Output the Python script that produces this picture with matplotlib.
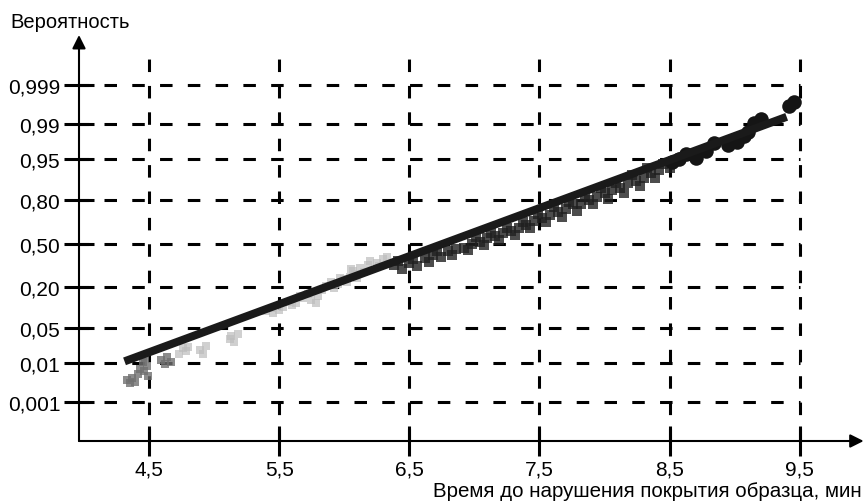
import numpy as np
import matplotlib
matplotlib.use("Agg")
import matplotlib.pyplot as plt
from statistics import NormalDist

plt.rcParams['font.family'] = ['Liberation Sans', 'DejaVu Sans']
plt.rcParams['lines.scale_dashes'] = False

# probability ticks (normal probability paper) and time ticks
prob_ticks = [0.001, 0.01, 0.05, 0.20, 0.50, 0.80, 0.95, 0.99, 0.999]
prob_labels = ["0,001", "0,01", "0,05", "0,20", "0,50", "0,80", "0,95", "0,99", "0,999"]
time_ticks = [4.5, 5.5, 6.5, 7.5, 8.5, 9.5]
time_labels = ["4,5", "5,5", "6,5", "7,5", "8,5", "9,5"]

mid_x = [4.33, 4.35, 4.37, 4.39, 4.41, 4.43, 4.45, 4.46, 4.48, 4.49, 4.47, 4.59, 4.62, 4.64, 4.67]
mid_p = [0.0040, 0.0033, 0.0045, 0.0036, 0.0055, 0.0075, 0.0105, 0.0065, 0.0085, 0.0050, 0.0130,
         0.0115, 0.0095, 0.0135, 0.0105]
light_x = [4.73, 4.76, 4.78, 4.80, 4.89, 4.91, 4.94, 5.12, 5.13, 5.15, 5.18, 5.40, 5.44, 5.45, 5.50,
           5.53, 5.58, 5.60, 5.63, 5.66, 5.68, 5.72, 5.74, 5.78, 5.80, 5.83, 5.86, 5.90, 5.92, 5.95,
           5.97, 6.00, 6.02, 6.04, 6.05, 6.07, 6.08, 6.10, 6.12, 6.15, 6.18, 6.20, 6.25, 6.27, 6.30,
           6.33]
light_p = [0.0160, 0.0210, 0.0180, 0.0220, 0.0190, 0.0160, 0.0230, 0.0320, 0.0360, 0.0280, 0.0400,
           0.0940, 0.1050, 0.0880, 0.1000, 0.1100, 0.1300, 0.1150, 0.1250, 0.1550, 0.1450, 0.1650,
           0.1380, 0.1250, 0.1520, 0.1850, 0.2050, 0.2250, 0.1950, 0.2150, 0.2500, 0.2450, 0.2250,
           0.2600, 0.3100, 0.3000, 0.2800, 0.2550, 0.3200, 0.2900, 0.3400, 0.3700, 0.3500, 0.3300,
           0.3800, 0.4000]
dark_x = [6.38, 6.41, 6.44, 6.50, 6.53, 6.56, 6.62, 6.65, 6.68, 6.71, 6.74, 6.80, 6.83, 6.86, 6.92,
          6.95, 6.98, 7.01, 7.04, 7.07, 7.10, 7.13, 7.16, 7.19, 7.22, 7.25, 7.28, 7.31, 7.34, 7.37,
          7.40, 7.43, 7.46, 7.49, 7.52, 7.55, 7.58, 7.61, 7.64, 7.67, 7.70, 7.73, 7.76, 7.79, 7.82,
          7.85, 7.88, 7.91, 7.94, 7.97, 8.00, 8.03, 8.06, 8.09, 8.12, 8.15, 8.18, 8.21, 8.24, 8.27,
          8.30, 8.33, 8.36, 8.39, 8.42, 8.45, 8.50]
dark_p = [0.34, 0.37, 0.31, 0.35, 0.38, 0.33, 0.39, 0.36, 0.41, 0.44, 0.40, 0.44, 0.41, 0.46, 0.47,
          0.45, 0.50, 0.55, 0.51, 0.49, 0.54, 0.58, 0.56, 0.53, 0.58, 0.62, 0.60, 0.57, 0.62, 0.66,
          0.64, 0.62, 0.67, 0.72, 0.69, 0.66, 0.71, 0.76, 0.73, 0.70, 0.75, 0.79, 0.78, 0.74, 0.78,
          0.82, 0.80, 0.78, 0.82, 0.86, 0.84, 0.81, 0.85, 0.88, 0.86, 0.84, 0.88, 0.91, 0.89, 0.87,
          0.90, 0.93, 0.915, 0.90, 0.925, 0.94, 0.93]
blob_x = [8.52, 8.57, 8.63, 8.70, 8.78, 8.84, 8.95, 9.02, 9.07, 9.10, 9.15, 9.20, 9.42, 9.46]
blob_p = [0.945, 0.950, 0.960, 0.953, 0.965, 0.975, 0.972, 0.976, 0.982, 0.985, 0.9905, 0.9925,
          0.9962, 0.9970]

# fitted line end points
fit_x = [4.31, 9.40]
fit_p = [0.011, 0.9932]

probit = np.vectorize(NormalDist().inv_cdf)

fig = plt.figure(figsize=(8.66, 5.02), dpi=100)
ax = fig.add_axes([79 / 866, 60 / 502, 787 / 866, 406 / 502])
ax.set_xlim(3.96, 10.01)
ax.set_ylim(-3.84, 4.06)
for s in ax.spines.values():
    s.set_visible(False)

zt = probit(prob_ticks)
ax.hlines(zt, 3.96, 9.5, colors='black', linewidth=2.2, linestyles=(2, (9, 11)), zorder=1)
ax.vlines(time_ticks, -3.84, 3.73, colors='black', linewidth=2.2, linestyles=(0, (9, 10)), zorder=1)

ax.scatter(light_x, probit(light_p), s=35, marker='s', color='#bdbdbd', alpha=0.7, linewidths=0, zorder=2)
ax.scatter(mid_x, probit(mid_p), s=40, marker='s', color='#707070', alpha=0.8, linewidths=0, zorder=2)
ax.scatter(dark_x, probit(dark_p), s=45, marker='s', color='#202020', alpha=0.8, linewidths=0, zorder=2)
ax.scatter(blob_x, probit(blob_p), s=110, marker='o', color='#151515', linewidths=0, zorder=2)
ax.plot(fit_x, probit(fit_p), color='#1a1a1a', linewidth=5.8, solid_capstyle='butt', zorder=3)

ax.set_xticks(time_ticks)
ax.set_xticklabels(time_labels)
ax.set_yticks(zt)
ax.set_yticklabels(prob_labels)
ax.tick_params(direction='inout', length=21, width=2.2, labelsize=15, pad=3)

# axes with arrows
ax.annotate('', xy=(0.997, 0), xytext=(0, 0), xycoords='axes fraction',
            arrowprops=dict(arrowstyle='-|>', lw=1.5, color='black', mutation_scale=20, shrinkA=0, shrinkB=0))
ax.annotate('', xy=(0, 1.0), xytext=(0, 0), xycoords='axes fraction',
            arrowprops=dict(arrowstyle='-|>', lw=1.5, color='black', mutation_scale=20, shrinkA=0, shrinkB=0))

fig.text(10 / 866, 1 - 22 / 502, "Вероятность", fontsize=14.5, va='center', ha='left')
fig.text(862 / 866, 1 - 492 / 502, "Время до нарушения покрытия образца, мин", fontsize=14.8,
         va='center', ha='right')

fig.savefig("out.png", dpi=100)
